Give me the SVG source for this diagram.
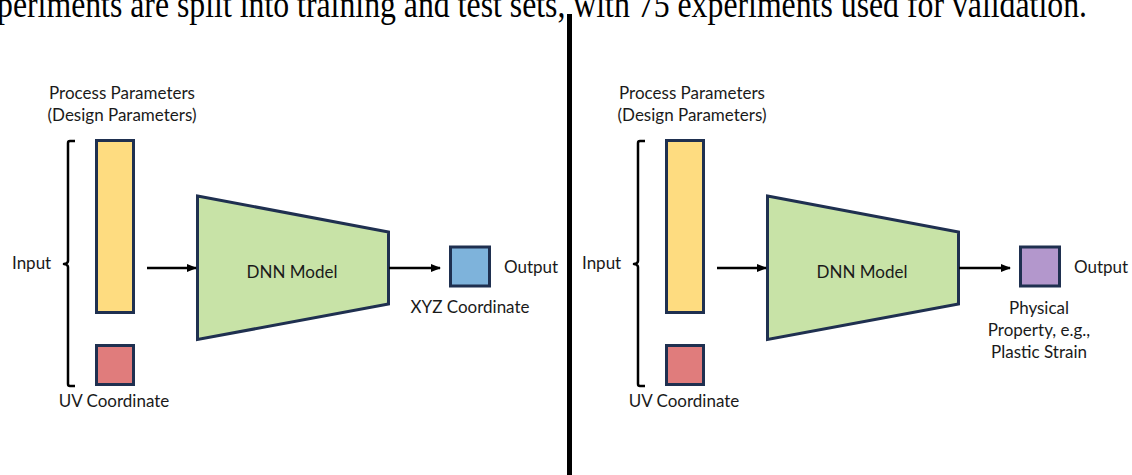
<svg xmlns="http://www.w3.org/2000/svg" width="1132" height="475" viewBox="0 0 1132 475">
<style>
.lbl{font-family:Lato,"Open Sans",sans-serif;font-size:17px;fill:#1a1a1a}
.box{stroke:#1F3050;stroke-width:3}
.brace{fill:none;stroke:#000;stroke-width:2.5;stroke-linejoin:round}
.arr{stroke:#000;stroke-width:2.5;fill:none;marker-end:url(#ah)}
.cap{font-family:"Liberation Serif","Times New Roman",serif;font-size:26px;fill:#000}
</style>
<defs>
<marker id="ah" markerWidth="10" markerHeight="8" refX="9" refY="4" orient="auto" markerUnits="userSpaceOnUse">
<path d="M0,0 L10,4 L0,8 Z" fill="#000"/>
</marker>
</defs>
<rect width="1132" height="475" fill="#fff"/>
<g transform="scale(1,1.45)">
<text class="cap" x="-3" y="11.8" textLength="1090" lengthAdjust="spacingAndGlyphs">periments are split into training and test sets, with 75 experiments used for validation.</text>
</g>
<line x1="569.5" y1="14" x2="569.5" y2="475" stroke="#000" stroke-width="5"/>

<g id="left-panel">
<g id="left-process-params">
<text class="lbl" x="122" y="99" text-anchor="middle">Process Parameters</text>
<text class="lbl" x="122" y="121" text-anchor="middle">(Design Parameters)</text>
<rect class="box" x="96.5" y="140.5" width="37" height="172" fill="#FEDC80"/>
</g>
<g id="left-uv">
<rect class="box" x="96.5" y="345.5" width="37" height="39" fill="#E07C7C"/>
<text class="lbl" x="114" y="407" text-anchor="middle">UV Coordinate</text>
</g>
<g id="left-input">
<path class="brace" d="M75,141 L70,141 Q68,141 68,143 L68,261 Q68,263.5 64,264 Q68,264.5 68,267 L68,384 Q68,386 70,386 L75,386"/>
<text class="lbl" x="12" y="269">Input</text>
</g>
<g id="left-dnn">
<polygon class="box" points="197.5,196 388.5,232 388.5,304 197.5,339.5" fill="#C8E3A7"/>
<text class="lbl" x="292" y="278" text-anchor="middle">DNN Model</text>
</g>
<g id="left-output">
<rect class="box" x="450.5" y="247" width="39" height="39" fill="#7EB3DB"/>
<text class="lbl" x="504" y="273">Output</text>
<text class="lbl" x="470" y="313" text-anchor="middle">XYZ Coordinate</text>
</g>
</g>

<g id="right-panel">
<g id="right-process-params">
<text class="lbl" x="692" y="99" text-anchor="middle">Process Parameters</text>
<text class="lbl" x="692" y="121" text-anchor="middle">(Design Parameters)</text>
<rect class="box" x="666.5" y="140.5" width="37" height="172" fill="#FEDC80"/>
</g>
<g id="right-uv">
<rect class="box" x="666.5" y="345.5" width="37" height="39" fill="#E07C7C"/>
<text class="lbl" x="684" y="407" text-anchor="middle">UV Coordinate</text>
</g>
<g id="right-input">
<path class="brace" d="M645,141 L640,141 Q638,141 638,143 L638,261 Q638,263.5 634,264 Q638,264.5 638,267 L638,384 Q638,386 640,386 L645,386"/>
<text class="lbl" x="582" y="269">Input</text>
</g>
<g id="right-dnn">
<polygon class="box" points="767.5,196 958.5,232 958.5,304 767.5,339.5" fill="#C8E3A7"/>
<text class="lbl" x="862" y="278" text-anchor="middle">DNN Model</text>
</g>
<g id="right-output">
<rect class="box" x="1020.5" y="247" width="39" height="39" fill="#B397CC"/>
<text class="lbl" x="1074" y="273">Output</text>
<text class="lbl" x="1039" y="314" text-anchor="middle">Physical</text>
<text class="lbl" x="1039" y="336" text-anchor="middle">Property, e.g.,</text>
<text class="lbl" x="1039" y="358" text-anchor="middle">Plastic Strain</text>
</g>
</g>

<g id="connectors">
<line class="arr" x1="147" y1="268" x2="196" y2="268"/>
<line class="arr" x1="389" y1="268" x2="440" y2="268"/>
<line class="arr" x1="717" y1="268" x2="766" y2="268"/>
<line class="arr" x1="959" y1="268" x2="1010" y2="268"/>
</g>
</svg>
